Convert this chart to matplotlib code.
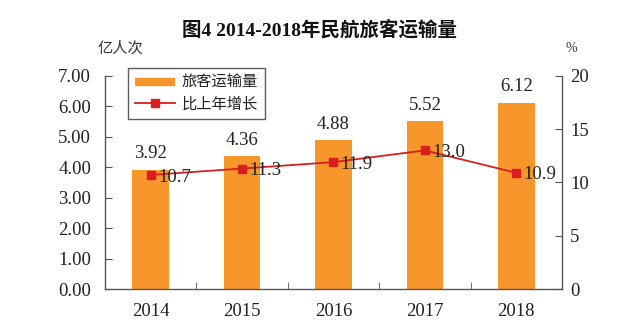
import matplotlib
matplotlib.use("Agg")
import matplotlib.pyplot as plt
from matplotlib.lines import Line2D
import numpy as np

years = ["2014", "2015", "2016", "2017", "2018"]
passengers = [3.92, 4.36, 4.88, 5.52, 6.12]
growth = [10.7, 11.3, 11.9, 13.0, 10.9]
left_ticks = [0, 1, 2, 3, 4, 5, 6, 7]
right_ticks = [0, 5, 10, 15, 20]

FAM = ["Liberation Serif", "Noto Sans CJK SC", "DejaVu Sans"]
plt.rcParams["font.family"] = FAM

NUM = 13.5
TXT = "#222222"

fig = plt.figure(figsize=(6.4, 3.35), dpi=100)
ax = fig.add_axes([0.164, 0.137, 0.714, 0.637])
ax2 = ax.twinx()

x = np.arange(len(years))
bar_color = "#F7962B"
line_color = "#D81E1E"

bars = ax.bar(x, passengers, width=0.4, color=bar_color, zorder=2)
ax.set_xlim(-0.5, len(years) - 0.5)
ax.set_ylim(0, 7)
ax.set_yticks(left_ticks)
ax.set_yticklabels([f"{v:.2f}" for v in left_ticks], fontsize=NUM, color=TXT)
ax.set_xticks(x)
ax.set_xticklabels(years, fontsize=NUM, color=TXT)
ax.set_xticks(np.arange(len(years) + 1) - 0.5, minor=True)
ax.tick_params(axis="x", which="major", length=0, pad=10)
ax.tick_params(axis="x", which="minor", direction="in", length=5, color="#555555")
ax.tick_params(axis="y", direction="in", length=5, color="#555555", pad=10)

for xi, v in zip(x, passengers):
    ax.text(xi, v + 0.24, f"{v:.2f}", ha="center", va="bottom", fontsize=NUM, color=TXT)

line, = ax2.plot(x, growth, color=line_color, marker="s", markersize=6, linewidth=1.3, zorder=3)
ax2.set_ylim(0, 20)
ax2.set_yticks(right_ticks)
ax2.set_yticklabels([str(v) for v in right_ticks], fontsize=NUM, color=TXT)
ax2.tick_params(axis="y", direction="in", length=5, color="#555555", pad=6)
for xi, v in zip(x, growth):
    ax2.text(xi + 0.08, v - 0.2, f"{v:.1f}", ha="left", va="center", fontsize=NUM, color=TXT)

for a in (ax, ax2):
    a.spines["top"].set_visible(False)
    for s in ("left", "right", "bottom"):
        a.spines[s].set_color("#555555")
        a.spines[s].set_linewidth(1.0)
ax.spines["right"].set_visible(False)
ax2.spines["left"].set_visible(False)
ax2.spines["bottom"].set_visible(False)

bar_handle = Line2D([], [], color=bar_color, linewidth=6, solid_capstyle="butt")
leg = ax2.legend([bar_handle, line], ["旅客运输量", "比上年增长"], loc="upper left",
                 bbox_to_anchor=(0.05, 1.035), borderaxespad=0, frameon=True, fancybox=False,
                 edgecolor="#333333", handlelength=2.6, borderpad=0.5, labelspacing=0.45,
                 handletextpad=0.4, prop={"family": FAM, "size": 11})
leg.get_frame().set_linewidth(1.0)
for t in leg.get_texts():
    t.set_color(TXT)

fig.text(0.5, 0.91, "图4 2014-2018年民航旅客运输量", ha="center", va="center",
         fontsize=14, fontweight="bold", family=FAM, color="#111111")
fig.text(0.188, 0.854, "亿人次", ha="center", va="center", fontsize=11, family=FAM, color="#333333")
fig.text(0.892, 0.854, "%", ha="center", va="center", fontsize=10, family=FAM, color="#333333")

fig.savefig("out.png", dpi=100)
